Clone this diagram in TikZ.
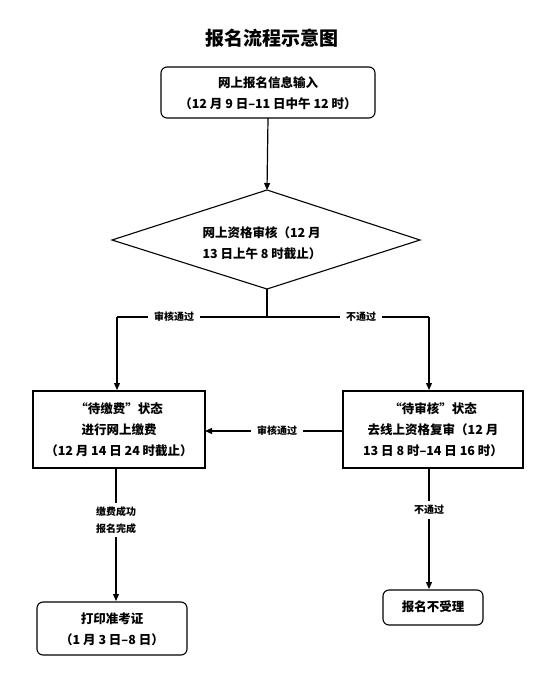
\documentclass[tikz,border=0pt]{standalone}
\usepackage{fontspec}
\setmainfont{Noto Sans CJK SC}
\usetikzlibrary{arrows.meta,shapes.geometric}
\begin{document}
\begin{tikzpicture}[x=1pt,y=-1pt,
  every node/.style={inner sep=0pt},
  body/.style={font=\fontsize{12.5}{21}\selectfont\bfseries, align=center},
  lbl/.style={font=\fontsize{10}{17}\selectfont\bfseries, fill=white, inner xsep=6pt, inner ysep=2pt, align=center},
  rbox/.style={draw, line width=1.1pt, rounded corners=6pt},
  sbox/.style={draw, line width=1.1pt},
  conn/.style={line width=1.2pt},
  arr/.style={conn, -{Triangle[width=6pt,length=7pt]}}
]
\useasboundingbox (0,0) rectangle (548,682);
\node[font=\fontsize{19}{22}\selectfont\bfseries] (title) at (272,38) {报名流程示意图};

% box 1
\draw[rbox] (161,67) rectangle (375,118);
\coordinate (b1) at (268,118);
\node[body] (t1) at (268,93) {网上报名信息输入\\（12 月 9 日–11 日中午 12 时）};

% diamond
\coordinate (dT) at (267,190);
\coordinate (dL) at (112,240);
\coordinate (dR) at (420,240);
\coordinate (dB) at (267,289);
\draw[sbox] (dT) -- (dR) -- (dB) -- (dL) -- cycle;
\node[body, align=left] (t2) at (262,243) {网上资格审核（12 月\\13 日上午 8 时截止）};
\draw[arr] (b1) -- (dT);

% split
\coordinate (j) at (267,317);
\coordinate (jl) at (117,317);
\coordinate (jr) at (429,317);
\coordinate (lT) at (117,390);
\coordinate (rT) at (429,390);
\draw[conn] (dB) -- (j);
\draw[conn] (j) -- (jl);
\draw[conn] (j) -- (jr);
\draw[arr] (jl) -- (lT);
\draw[arr] (jr) -- (rT);
\node[lbl] (l1) at (174,317) {审核通过};
\node[lbl] (l2) at (361,317) {不通过};

% middle boxes
\draw[sbox] (33,391) rectangle (205,468);
\node[body] (t3) at (119,430) {“待缴费”状态\\进行网上缴费\\（12 月 14 日 24 时截止）};
\draw[sbox] (343,391) rectangle (523,468);
\node[body] (t4) at (433,430) {“待审核”状态\\去线上资格复审（12 月\\13 日 8 时–14 日 16 时）};
\coordinate (lR) at (205,431);
\coordinate (rL) at (343,431);
\draw[arr] (rL) -- (lR);
\node[lbl] (l3) at (277,431) {审核通过};

% bottom
\coordinate (lB) at (116,468);
\coordinate (pT) at (116,601);
\draw[arr] (lB) -- (pT);
\node[lbl, inner ysep=4pt] (l4) at (116,520) {缴费成功\\报名完成};
\draw[rbox] (37,602) rectangle (187,655);
\node[body] (t5) at (112,629) {打印准考证\\（1 月 3 日–8 日）};

\coordinate (rB) at (429,468);
\coordinate (nT) at (429,589);
\draw[arr] (rB) -- (nT);
\node[lbl, inner ysep=4pt] (l5) at (429,510) {不通过};
\draw[rbox] (383,590) rectangle (483,625);
\node[body] (t6) at (433,607) {报名不受理};
\end{tikzpicture}
\end{document}
